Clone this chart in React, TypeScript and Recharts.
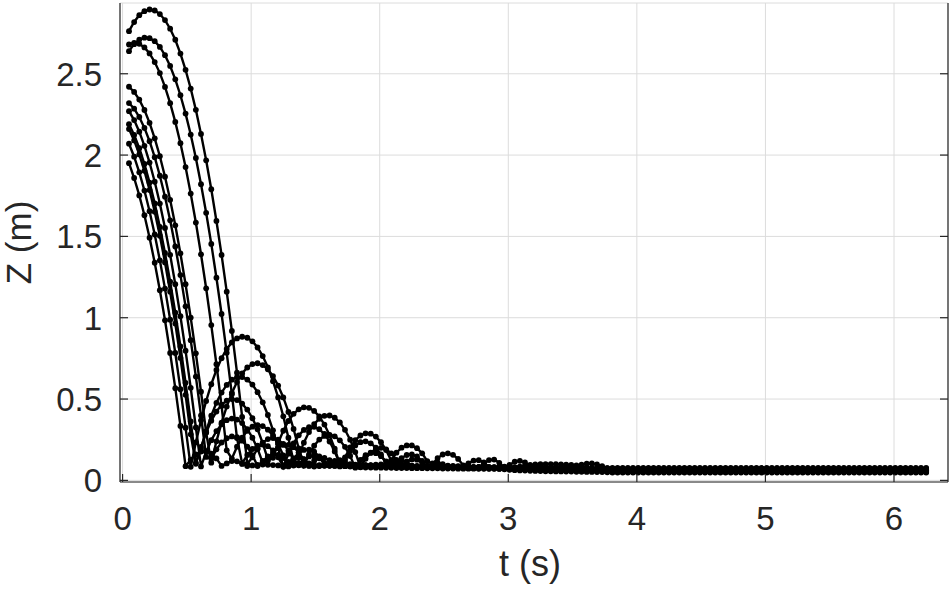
import React from 'react';
import { LineChart, Line, XAxis, YAxis, CartesianGrid } from 'recharts';

// sampling of the tracked trajectories (s)
const T0 = 0.05;
const DT = 0.04;

const xTicks = [0, 1, 2, 3, 4, 5, 6];
const yTicks = [0, 0.5, 1, 1.5, 2, 2.5];
const xLabel = 't (s)';
const yLabel = 'Z (m)';

const seriesA = [
  2.762, 2.818, 2.86, 2.885, 2.895, 2.889, 2.867, 2.83, 2.777, 2.709, 2.624, 2.524, 2.409, 2.278, 2.13, 1.968, 1.79, 1.595, 1.386, 1.16, 0.919, 0.662, 0.39, 0.102,
  0.142, 0.195, 0.232, 0.254, 0.26, 0.25, 0.225, 0.183, 0.127,
  0.095, 0.129, 0.147, 0.149, 0.136, 0.107,
  0.091, 0.107, 0.109, 0.094,
  0.085, 0.088, 0.09, 0.092, 0.09, 0.088, 0.086, 0.085, 0.084, 0.083, 0.082, 0.082, 0.081, 0.08, 0.08, 0.079, 0.079, 0.078, 0.078, 0.077, 0.077, 0.077, 0.076, 0.076, 0.076, 0.082,
  0.102, 0.125, 0.128, 0.108,
  0.078, 0.074, 0.072, 0.071, 0.07, 0.07, 0.069, 0.069, 0.068, 0.068, 0.067, 0.067, 0.066, 0.066, 0.065, 0.065, 0.064, 0.064, 0.063, 0.063, 0.062,
  0.06, 0.06, 0.06, 0.06, 0.06, 0.06, 0.06, 0.06, 0.06, 0.06, 0.06, 0.06, 0.06, 0.06, 0.06, 0.06, 0.06, 0.06, 0.06, 0.06, 0.06, 0.06, 0.06, 0.06, 0.06, 0.06, 0.06, 0.06, 0.06, 0.06, 0.06,
  0.06, 0.06, 0.06, 0.06, 0.06, 0.06, 0.06, 0.06, 0.06, 0.06, 0.06, 0.06, 0.06, 0.06, 0.06, 0.06, 0.06, 0.06, 0.06, 0.06, 0.06, 0.06, 0.06, 0.06, 0.06, 0.06, 0.06, 0.06, 0.06, 0.06, 0.06,
];

const seriesB = [
  2.639, 2.682, 2.71, 2.722, 2.719, 2.7, 2.665, 2.614, 2.548, 2.466, 2.368, 2.255, 2.126, 1.982, 1.821, 1.645, 1.454, 1.246, 1.023, 0.784, 0.53, 0.26,
  0.104, 0.156, 0.193, 0.214, 0.22, 0.21, 0.184, 0.142, 0.085,
  0.113, 0.134, 0.14, 0.13, 0.104,
  0.088, 0.09, 0.094, 0.097, 0.099, 0.1, 0.1, 0.099, 0.097, 0.095, 0.093, 0.092, 0.09, 0.089, 0.088, 0.087, 0.087, 0.086, 0.086, 0.085, 0.085, 0.085, 0.084, 0.084, 0.083, 0.083, 0.082, 0.082, 0.081, 0.081, 0.08, 0.08, 0.08, 0.079, 0.079, 0.079, 0.08, 0.084,
  0.095, 0.115, 0.12, 0.11, 0.088,
  0.076, 0.073, 0.071, 0.07, 0.069, 0.069, 0.068, 0.068, 0.067, 0.067, 0.066, 0.066, 0.066, 0.065, 0.065,
  0.065, 0.065, 0.065, 0.065, 0.065, 0.065, 0.065, 0.065, 0.065, 0.065, 0.065, 0.065, 0.065, 0.065, 0.065, 0.065, 0.065, 0.065, 0.065, 0.065, 0.065, 0.065, 0.065, 0.065, 0.065, 0.065, 0.065, 0.065, 0.065, 0.065, 0.065,
  0.065, 0.065, 0.065, 0.065, 0.065, 0.065, 0.065, 0.065, 0.065, 0.065, 0.065, 0.065, 0.065, 0.065, 0.065, 0.065, 0.065, 0.065, 0.065, 0.065, 0.065, 0.065, 0.065, 0.065, 0.065, 0.065, 0.065, 0.065, 0.065, 0.065, 0.065,
];

const seriesC = [
  2.68, 2.69, 2.684, 2.662, 2.625, 2.572, 2.504, 2.419, 2.319, 2.204, 2.073, 1.926, 1.763, 1.585, 1.39, 1.181, 0.955, 0.714, 0.457, 0.185,
  0.134, 0.207, 0.263, 0.305, 0.33, 0.34, 0.334, 0.312, 0.275, 0.222, 0.154,
  0.086, 0.135, 0.169, 0.187, 0.189, 0.176, 0.147, 0.102,
  0.1, 0.12, 0.125, 0.114, 0.087,
  0.082, 0.08, 0.079, 0.079, 0.078, 0.078, 0.077, 0.077, 0.076, 0.076, 0.076, 0.075, 0.075, 0.075, 0.074, 0.074, 0.074, 0.073, 0.073, 0.073, 0.072, 0.072, 0.072, 0.072, 0.071, 0.071, 0.071, 0.071, 0.072, 0.074, 0.077, 0.08, 0.085,
  0.09, 0.095, 0.098, 0.1, 0.1, 0.1, 0.099, 0.098, 0.097, 0.095, 0.092, 0.087, 0.08,
  0.072, 0.064, 0.058, 0.056,
  0.052, 0.052, 0.052, 0.052, 0.052, 0.052, 0.052, 0.052, 0.052, 0.052, 0.052, 0.052, 0.052, 0.052, 0.052, 0.052, 0.052, 0.052, 0.052, 0.052, 0.052, 0.052, 0.052, 0.052, 0.052, 0.052, 0.052, 0.052, 0.052, 0.052, 0.052,
  0.052, 0.052, 0.052, 0.052, 0.052, 0.052, 0.052, 0.052, 0.052, 0.052, 0.052, 0.052, 0.052, 0.052, 0.052, 0.052, 0.052, 0.052, 0.052, 0.052, 0.052, 0.052, 0.052, 0.052, 0.052, 0.052, 0.052, 0.052, 0.052, 0.052, 0.052,
];

const seriesD = [
  1.95, 1.859, 1.752, 1.63, 1.492, 1.338, 1.169, 0.984, 0.783, 0.567, 0.335, 0.087,
  0.127, 0.16, 0.177, 0.179, 0.165, 0.135, 0.089,
  0.104, 0.119, 0.117, 0.101,
  0.088, 0.092, 0.095, 0.097, 0.096, 0.094, 0.092, 0.09, 0.09, 0.091,
  0.093, 0.095, 0.096, 0.095, 0.093, 0.091, 0.09, 0.089, 0.088, 0.088,
  0.087, 0.087, 0.086, 0.086, 0.085, 0.085, 0.085, 0.084, 0.084, 0.083,
  0.083, 0.083, 0.082, 0.082, 0.082, 0.081, 0.081, 0.08, 0.08, 0.08,
  0.079, 0.079, 0.079, 0.078, 0.078, 0.078, 0.077, 0.077, 0.077, 0.076,
  0.076, 0.076, 0.075, 0.075, 0.075, 0.074, 0.074, 0.074, 0.073, 0.073,
  0.073, 0.072, 0.072, 0.072, 0.071, 0.071, 0.071, 0.07, 0.07, 0.07, 0.07,
  0.07, 0.07, 0.07, 0.07, 0.07, 0.07, 0.07, 0.07, 0.07, 0.07, 0.07, 0.07, 0.07, 0.07, 0.07, 0.07, 0.07, 0.07, 0.07, 0.07, 0.07, 0.07, 0.07, 0.07, 0.07, 0.07, 0.07, 0.07, 0.07, 0.07, 0.07,
  0.07, 0.07, 0.07, 0.07, 0.07, 0.07, 0.07, 0.07, 0.07, 0.07, 0.07, 0.07, 0.07, 0.07, 0.07, 0.07, 0.07, 0.07, 0.07, 0.07, 0.07, 0.07, 0.07, 0.07, 0.07, 0.07, 0.07, 0.07, 0.07, 0.07, 0.07,
];

const seriesE = [
  2.07, 1.99, 1.894, 1.782, 1.655, 1.512, 1.353, 1.179, 0.988, 0.783, 0.561, 0.324,
  0.083, 0.234, 0.369, 0.488, 0.591, 0.679, 0.751, 0.808, 0.848, 0.873, 0.883, 0.877, 0.855, 0.817, 0.764, 0.695, 0.61, 0.51, 0.394, 0.262, 0.115,
  0.152, 0.232, 0.297, 0.346, 0.379, 0.397, 0.399, 0.385, 0.356, 0.311, 0.25, 0.174, 0.081,
  0.133, 0.171, 0.193, 0.2, 0.191, 0.166, 0.126,
  0.087, 0.116, 0.129, 0.127, 0.109,
  0.085, 0.082, 0.08, 0.079, 0.078, 0.077, 0.076, 0.076, 0.075, 0.075,
  0.074, 0.074, 0.073, 0.073, 0.072, 0.072, 0.071, 0.071, 0.07, 0.07,
  0.069, 0.069, 0.068, 0.068, 0.067, 0.067, 0.066, 0.066, 0.065, 0.065,
  0.064, 0.064, 0.063, 0.063, 0.062, 0.062,
  0.06, 0.06, 0.06, 0.06, 0.06, 0.06, 0.06, 0.06, 0.06, 0.06, 0.06, 0.06, 0.06, 0.06, 0.06, 0.06, 0.06, 0.06, 0.06, 0.06, 0.06, 0.06, 0.06, 0.06, 0.06, 0.06, 0.06, 0.06, 0.06, 0.06, 0.06,
  0.06, 0.06, 0.06, 0.06, 0.06, 0.06, 0.06, 0.06, 0.06, 0.06, 0.06, 0.06, 0.06, 0.06, 0.06, 0.06, 0.06, 0.06, 0.06, 0.06, 0.06, 0.06, 0.06, 0.06, 0.06, 0.06, 0.06, 0.06, 0.06, 0.06, 0.06,
];

const seriesF = [
  2.16, 2.09, 2.004, 1.903, 1.785, 1.652, 1.504, 1.34, 1.16, 0.964, 0.753, 0.526, 0.283,
  0.102, 0.206, 0.294, 0.367, 0.423, 0.465, 0.49, 0.5, 0.494, 0.472, 0.435, 0.382, 0.314, 0.229, 0.129,
  0.139, 0.23, 0.305, 0.365, 0.409, 0.437, 0.449, 0.446, 0.427, 0.393, 0.343, 0.277, 0.195, 0.098,
  0.142, 0.202, 0.247, 0.276, 0.289, 0.287, 0.269, 0.235, 0.186, 0.121,
  0.102, 0.137, 0.156, 0.159, 0.147, 0.119,
  0.082, 0.104, 0.11, 0.1,
  0.088, 0.085, 0.084, 0.083, 0.083, 0.082, 0.082, 0.082, 0.081, 0.081,
  0.081, 0.08, 0.08, 0.08, 0.08, 0.079, 0.079, 0.079, 0.079, 0.078,
  0.078, 0.078, 0.078, 0.077, 0.077, 0.077, 0.077, 0.076, 0.076, 0.076,
  0.075, 0.075,
  0.076, 0.076, 0.076, 0.076, 0.076, 0.076, 0.076, 0.076, 0.076, 0.076, 0.076, 0.076, 0.076, 0.076, 0.076, 0.076, 0.076, 0.076, 0.076, 0.076, 0.076, 0.076, 0.076, 0.076, 0.076, 0.076, 0.076, 0.076, 0.076, 0.076, 0.076,
  0.076, 0.076, 0.076, 0.076, 0.076, 0.076, 0.076, 0.076, 0.076, 0.076, 0.076, 0.076, 0.076, 0.076, 0.076, 0.076, 0.076, 0.076, 0.076, 0.076, 0.076, 0.076, 0.076, 0.076, 0.076, 0.076, 0.076, 0.076, 0.076, 0.076, 0.076,
];

const seriesG = [
  2.19, 2.124, 2.042, 1.945, 1.831, 1.703, 1.558, 1.398, 1.222, 1.031, 0.823, 0.6, 0.362, 0.108,
  0.193, 0.303, 0.398, 0.477, 0.54, 0.587, 0.619, 0.635, 0.635, 0.62, 0.589, 0.542, 0.48, 0.402, 0.308, 0.199,
  0.084, 0.164, 0.228, 0.277, 0.31, 0.327, 0.329, 0.315, 0.285, 0.239, 0.178, 0.101,
  0.128, 0.18, 0.215, 0.235, 0.24, 0.228, 0.201, 0.159, 0.1,
  0.124, 0.17, 0.201, 0.215, 0.215, 0.198, 0.166, 0.118,
  0.099, 0.137, 0.159, 0.166, 0.157, 0.132, 0.092,
  0.104, 0.122, 0.124, 0.111, 0.082,
  0.076, 0.072, 0.068, 0.065, 0.063, 0.061, 0.06, 0.059, 0.058, 0.057,
  0.056, 0.056, 0.055, 0.055, 0.054, 0.054, 0.053, 0.053, 0.052, 0.052,
  0.051, 0.051, 0.05,
  0.048, 0.048, 0.048, 0.048, 0.048, 0.048, 0.048, 0.048, 0.048, 0.048, 0.048, 0.048, 0.048, 0.048, 0.048, 0.048, 0.048, 0.048, 0.048, 0.048, 0.048, 0.048, 0.048, 0.048, 0.048, 0.048, 0.048, 0.048, 0.048, 0.048, 0.048,
  0.048, 0.048, 0.048, 0.048, 0.048, 0.048, 0.048, 0.048, 0.048, 0.048, 0.048, 0.048, 0.048, 0.048, 0.048, 0.048, 0.048, 0.048, 0.048, 0.048, 0.048, 0.048, 0.048, 0.048, 0.048, 0.048, 0.048, 0.048, 0.048, 0.048, 0.048,
];

const seriesH = [
  2.27, 2.215, 2.144, 2.057, 1.954, 1.836, 1.702, 1.552, 1.387, 1.206, 1.009, 0.797, 0.569, 0.325,
  0.086, 0.174, 0.247, 0.303, 0.345, 0.37, 0.38, 0.374, 0.352, 0.315, 0.262, 0.194, 0.109,
  0.121, 0.169, 0.201, 0.218, 0.218, 0.204, 0.173, 0.127,
  0.089, 0.121, 0.138, 0.138, 0.124, 0.093,
  0.086, 0.087, 0.089, 0.091, 0.092, 0.092, 0.091, 0.09, 0.089, 0.088,
  0.087, 0.087, 0.086, 0.086, 0.085, 0.085, 0.084, 0.084, 0.083, 0.083,
  0.082, 0.082, 0.081, 0.081, 0.08, 0.08, 0.079, 0.079, 0.078, 0.078,
  0.077, 0.077, 0.077, 0.076, 0.076, 0.076, 0.075, 0.075, 0.075, 0.075,
  0.074, 0.074, 0.074, 0.075, 0.077, 0.081,
  0.088, 0.097, 0.103, 0.104, 0.098, 0.087,
  0.075,
  0.065, 0.065, 0.065, 0.065, 0.065, 0.065, 0.065, 0.065, 0.065, 0.065, 0.065, 0.065, 0.065, 0.065, 0.065, 0.065, 0.065, 0.065, 0.065, 0.065, 0.065, 0.065, 0.065, 0.065, 0.065, 0.065, 0.065, 0.065, 0.065, 0.065, 0.065,
  0.065, 0.065, 0.065, 0.065, 0.065, 0.065, 0.065, 0.065, 0.065, 0.065, 0.065, 0.065, 0.065, 0.065, 0.065, 0.065, 0.065, 0.065, 0.065, 0.065, 0.065, 0.065, 0.065, 0.065, 0.065, 0.065, 0.065, 0.065, 0.065, 0.065, 0.065,
];

const seriesI = [
  2.32, 2.285, 2.234, 2.167, 2.085, 1.987, 1.873, 1.744, 1.599, 1.438, 1.262, 1.07, 0.862, 0.638, 0.399, 0.144,
  0.133, 0.191, 0.233, 0.259, 0.27, 0.265, 0.244, 0.207, 0.155, 0.088,
  0.119, 0.147, 0.159, 0.156, 0.137, 0.103,
  0.094, 0.108, 0.108, 0.091,
  0.085, 0.088, 0.09, 0.091, 0.09, 0.089, 0.088, 0.087, 0.087, 0.088,
  0.09, 0.093, 0.096, 0.098, 0.099, 0.098, 0.096, 0.094, 0.092, 0.09,
  0.089, 0.088, 0.087, 0.086, 0.085, 0.085, 0.084, 0.084, 0.083, 0.083,
  0.082, 0.082, 0.081, 0.081, 0.08, 0.08, 0.079, 0.079, 0.078, 0.078,
  0.077, 0.077, 0.076, 0.076, 0.075, 0.075, 0.074, 0.074, 0.073, 0.073,
  0.072, 0.072, 0.071, 0.071, 0.071, 0.07, 0.07, 0.07,
  0.07, 0.07, 0.07, 0.07, 0.07, 0.07, 0.07, 0.07, 0.07, 0.07, 0.07, 0.07, 0.07, 0.07, 0.07, 0.07, 0.07, 0.07, 0.07, 0.07, 0.07, 0.07, 0.07, 0.07, 0.07, 0.07, 0.07, 0.07, 0.07, 0.07, 0.07,
  0.07, 0.07, 0.07, 0.07, 0.07, 0.07, 0.07, 0.07, 0.07, 0.07, 0.07, 0.07, 0.07, 0.07, 0.07, 0.07, 0.07, 0.07, 0.07, 0.07, 0.07, 0.07, 0.07, 0.07, 0.07, 0.07, 0.07, 0.07, 0.07, 0.07, 0.07,
];

const seriesJ = [
  2.42, 2.388, 2.341, 2.277, 2.198, 2.103, 1.993, 1.867, 1.725, 1.568, 1.395, 1.206, 1.001, 0.781, 0.545, 0.294,
  0.109, 0.24, 0.355, 0.454, 0.538, 0.605, 0.657, 0.694, 0.715, 0.72, 0.709, 0.683, 0.641, 0.583, 0.51, 0.421, 0.316, 0.196,
  0.09, 0.159, 0.213, 0.251, 0.273, 0.28, 0.271, 0.246, 0.206, 0.15, 0.078,
  0.126, 0.155, 0.169, 0.167, 0.149, 0.116,
  0.089, 0.112, 0.12, 0.112, 0.089,
  0.082, 0.084, 0.086, 0.088, 0.089, 0.09, 0.09, 0.089, 0.088, 0.086,
  0.084, 0.082, 0.08, 0.078, 0.076, 0.075, 0.074, 0.073, 0.072, 0.071,
  0.07, 0.069, 0.068, 0.067, 0.066, 0.065, 0.064, 0.063, 0.062, 0.061,
  0.06, 0.059, 0.058, 0.058, 0.057, 0.057, 0.056, 0.056,
  0.055, 0.055, 0.055, 0.055, 0.055, 0.055, 0.055, 0.055, 0.055, 0.055, 0.055, 0.055, 0.055, 0.055, 0.055, 0.055, 0.055, 0.055, 0.055, 0.055, 0.055, 0.055, 0.055, 0.055, 0.055, 0.055, 0.055, 0.055, 0.055, 0.055, 0.055,
  0.055, 0.055, 0.055, 0.055, 0.055, 0.055, 0.055, 0.055, 0.055, 0.055, 0.055, 0.055, 0.055, 0.055, 0.055, 0.055, 0.055, 0.055, 0.055, 0.055, 0.055, 0.055, 0.055, 0.055, 0.055, 0.055, 0.055, 0.055, 0.055, 0.055, 0.055,
];

const allSeries = [seriesA, seriesB, seriesC, seriesD, seriesE, seriesF, seriesG, seriesH, seriesI, seriesJ];

const toPoints = (zs: number[]) =>
  zs.map((z, i) => ({ t: Math.round((T0 + DT * i) * 1000) / 1000, z }));

const AX = '#262626';
const GRID = '#dcdcdc';
const FONT = '"Liberation Sans", Arial, Helvetica, sans-serif';
const TICK_LEN = 8;

const BottomTick = (props: any) => {
  const { x, y, payload } = props;
  return (
    <g>
      <line x1={x} y1={y} x2={x} y2={y - TICK_LEN} stroke={AX} strokeWidth={1.2} />
      <text x={x} y={y + 48} textAnchor="middle" fill={AX} fontSize={33} fontFamily={FONT}>
        {String(payload.value)}
      </text>
    </g>
  );
};

const TopTick = (props: any) => {
  const { x, y } = props;
  return <line x1={x} y1={y} x2={x} y2={y + TICK_LEN} stroke={AX} strokeWidth={1.2} />;
};

const LeftTick = (props: any) => {
  const { x, y, payload } = props;
  return (
    <g>
      <line x1={x} y1={y} x2={x + TICK_LEN} y2={y} stroke={AX} strokeWidth={1.2} />
      <text x={x - 18} y={y + 12} textAnchor="end" fill={AX} fontSize={33} fontFamily={FONT}>
        {String(payload.value)}
      </text>
    </g>
  );
};

const RightTick = (props: any) => {
  const { x, y } = props;
  return <line x1={x} y1={y} x2={x - TICK_LEN} y2={y} stroke={AX} strokeWidth={1.2} />;
};

const XTitle = (props: any) => {
  const vb = props.viewBox || { x: 120, y: 482, width: 828, height: 107 };
  return (
    <text x={vb.x + vb.width / 2 - 4} y={vb.y + 94} textAnchor="middle" fill={AX} fontSize={36} fontFamily={FONT}>
      {xLabel}
    </text>
  );
};

const YTitle = (props: any) => {
  const vb = props.viewBox || { x: 0, y: 3, width: 120, height: 479 };
  const cx = vb.x + 31;
  const cy = vb.y + vb.height / 2;
  return (
    <text x={cx} y={cy} textAnchor="middle" fill={AX} fontSize={35} fontFamily={FONT} transform={`rotate(-90, ${cx}, ${cy})`}>
      {yLabel}
    </text>
  );
};

const X_DOMAIN: [number, number] = [-0.02, 6.42];
const Y_DOMAIN: [number, number] = [-0.01, 2.935];

export default function App() {
  return (
    <div style={{ position: 'absolute', left: 0, top: 0, width: 952, height: 589, background: '#fff' }}>
      <LineChart width={952} height={589} margin={{ top: 3, right: 0, bottom: 0, left: 0 }}>
        <CartesianGrid stroke={GRID} strokeWidth={1} />
        <XAxis
          xAxisId={0}
          type="number"
          dataKey="t"
          domain={X_DOMAIN}
          allowDataOverflow
          ticks={xTicks}
          interval={0}
          height={107}
          tickSize={0}
          tickMargin={0}
          tickLine={false}
          axisLine={{ stroke: AX, strokeWidth: 1.2 }}
          tick={<BottomTick />}
          label={(p: any) => <XTitle {...p} />}
        />
        <XAxis
          xAxisId="top"
          orientation="top"
          type="number"
          dataKey="t"
          domain={X_DOMAIN}
          allowDataOverflow
          ticks={xTicks}
          interval={0}
          height={0}
          tickSize={0}
          tickMargin={0}
          tickLine={false}
          axisLine={{ stroke: AX, strokeWidth: 1.2 }}
          tick={<TopTick />}
        />
        <YAxis
          yAxisId={0}
          type="number"
          domain={Y_DOMAIN}
          allowDataOverflow
          ticks={yTicks}
          interval={0}
          width={120}
          tickSize={0}
          tickMargin={0}
          tickLine={false}
          axisLine={{ stroke: AX, strokeWidth: 1.2 }}
          tick={<LeftTick />}
          label={(p: any) => <YTitle {...p} />}
        />
        <YAxis
          yAxisId="right"
          orientation="right"
          type="number"
          domain={Y_DOMAIN}
          allowDataOverflow
          ticks={yTicks}
          interval={0}
          width={4}
          tickSize={0}
          tickMargin={0}
          tickLine={false}
          axisLine={{ stroke: AX, strokeWidth: 1.2 }}
          tick={<RightTick />}
        />
        {allSeries.map((s, k) => (
          <Line
            key={k}
            data={toPoints(s)}
            dataKey="z"
            xAxisId={0}
            yAxisId={0}
            type="linear"
            stroke="#000"
            strokeWidth={2.4}
            dot={{ r: 2.9, fill: '#000', stroke: 'none' }}
            activeDot={false}
            isAnimationActive={false}
          />
        ))}
      </LineChart>
    </div>
  );
}
